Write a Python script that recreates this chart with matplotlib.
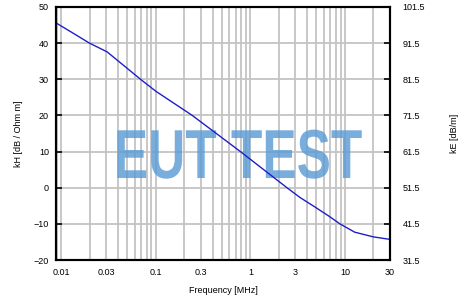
import matplotlib
matplotlib.use("Agg")
import matplotlib.pyplot as plt
from matplotlib import font_manager
from matplotlib.ticker import LogLocator, FixedLocator, NullFormatter
from matplotlib.patheffects import AbstractPathEffect
from matplotlib.transforms import Affine2D

#data
freq_mhz = [0.0088, 0.0127, 0.0199, 0.0305, 0.05, 0.0697, 0.1, 0.243, 0.785, 2.44, 3.35, 5.0, 6.9, 8.85, 12.7, 20, 30]
kh_db = [45.6, 43.1, 40.0, 37.6, 33.0, 29.9, 26.7, 20.0, 10.0, 0.0, -2.7, -5.6, -8.0, -10.0, -12.3, -13.6, -14.3]
x_ticks = [0.01, 0.03, 0.1, 0.3, 1, 3, 10, 30]
x_labels = ["0.01", "0.03", "0.1", "0.3", "1", "3", "10", "30"]
left_ticks = [-20, -10, 0, 10, 20, 30, 40, 50]
right_ticks = [31.5, 41.5, 51.5, 61.5, 71.5, 81.5, 91.5, 101.5]


class Stretch(AbstractPathEffect):
    #scales the glyphs of a text around its anchor point (tall, narrow letters)
    def __init__(self, text, sx, sy):
        super().__init__()
        self.text = text
        self.sx, self.sy = sx, sy

    def draw_path(self, renderer, gc, tpath, affine, rgbFace=None):
        cx, cy = self.text.get_transform().transform(self.text.get_position())
        tr = Affine2D().translate(-cx, -cy).scale(self.sx, self.sy).translate(cx, cy)
        renderer.draw_path(gc, tpath, affine + tr, rgbFace)


names = {f.name for f in font_manager.fontManager.ttflist}
base_font = "Liberation Sans" if "Liberation Sans" in names else "DejaVu Sans"
plt.rcParams['font.family'] = [base_font, 'DejaVu Sans']
plt.rcParams['font.size'] = 6.5

fig = plt.figure(figsize=(4.68, 3.05), dpi=100)
ax = fig.add_axes([56/468, 1 - 260/305, (390 - 56)/468, (260 - 7)/305])

ax.set_xscale("log")
ax.set_xlim(0.0088, 30)
ax.set_ylim(-20, 50)

#grid
ax.xaxis.set_major_locator(FixedLocator(x_ticks))
ax.set_xticklabels(x_labels)
ax.xaxis.set_minor_locator(LogLocator(base=10, subs=range(1, 10), numticks=20))
ax.xaxis.set_minor_formatter(NullFormatter())
ax.set_yticks(left_ticks)
ax.grid(True, which="both", axis="x", color="#c4c4c4", lw=1.3)
ax.grid(True, which="major", axis="y", color="#c4c4c4", lw=1.3)
ax.set_axisbelow(True)

ax.tick_params(axis="x", which="both", length=0, pad=6)
ax.tick_params(axis="y", direction="in", length=4, width=1.2, pad=5)

for s in ax.spines.values():
    s.set_linewidth(1.5)

#watermark
wm = ax.text(0.545, 0.324, "EUT TEST", transform=ax.transAxes, ha="center", va="baseline",
             fontsize=37, fontweight="bold", color="#5b9bd5", alpha=0.82, zorder=1)
wm.set_path_effects([Stretch(wm, 1.0, 1.35)])

ax.plot(freq_mhz, kh_db, color="#1e1ec8", lw=1.0, zorder=3)

ax.set_xlabel("Frequency [MHz]", labelpad=6)
ax.set_ylabel("kH [dB / Ohm m]", labelpad=8)

ax2 = ax.twinx()
ax2.set_ylim(31.5, 101.5)
ax2.set_yticks(right_ticks)
ax2.set_yticklabels([f"{v:.1f}" for v in right_ticks])
ax2.tick_params(axis="y", direction="in", length=4, width=1.2, pad=9)
ax2.set_ylabel("kE [dB/m]", labelpad=18)
for s in ax2.spines.values():
    s.set_linewidth(1.5)

fig.savefig("out.png", dpi=100)
